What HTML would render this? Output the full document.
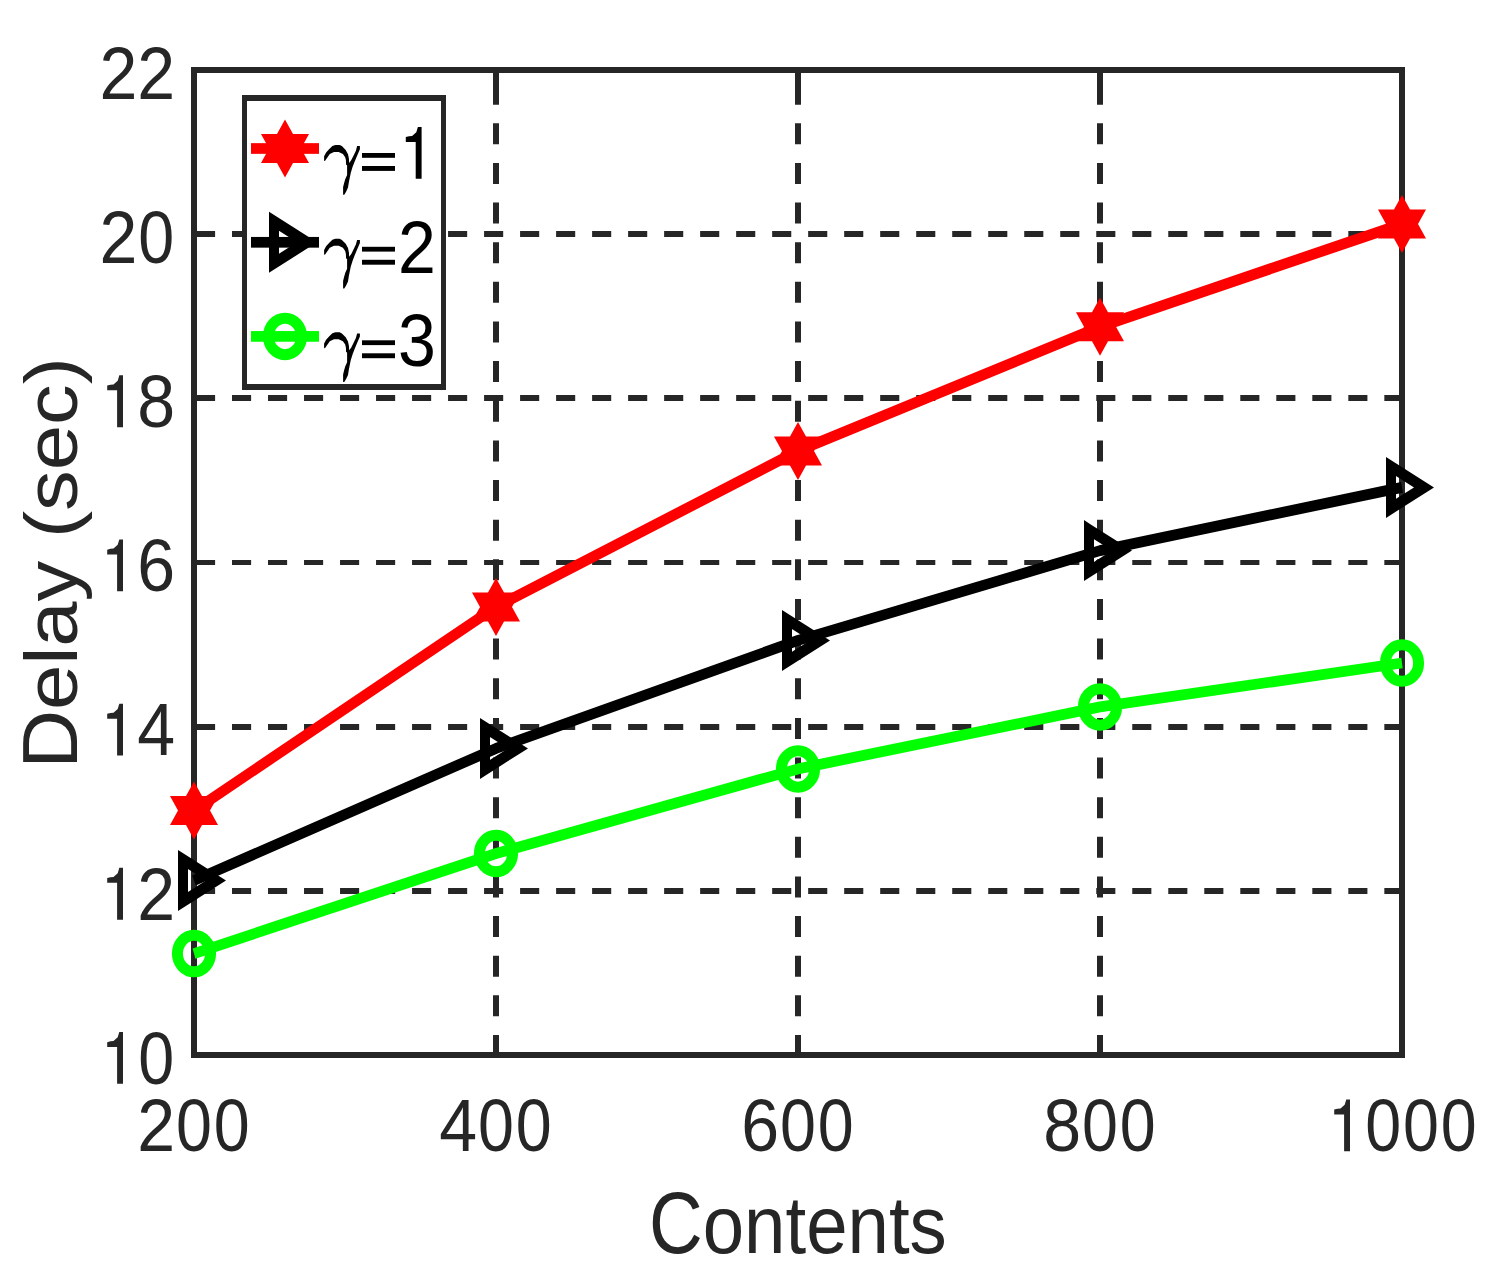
<!DOCTYPE html>
<html><head><meta charset="utf-8"><style>
html,body{margin:0;padding:0;background:#fff;width:1491px;height:1286px;overflow:hidden;}
svg{display:block;font-family:"Liberation Sans",sans-serif;}
</style></head><body>
<svg width="1491" height="1286" viewBox="0 0 1491 1286"><rect x="0" y="0" width="1491" height="1286" fill="#fff"/>
<line x1="496.0" y1="1056.0" x2="496.0" y2="70.0" stroke="#262626" stroke-width="6.0" stroke-dasharray="21 18.64"/>
<line x1="798.0" y1="1056.0" x2="798.0" y2="70.0" stroke="#262626" stroke-width="6.0" stroke-dasharray="21 18.64"/>
<line x1="1100.0" y1="1056.0" x2="1100.0" y2="70.0" stroke="#262626" stroke-width="6.0" stroke-dasharray="21 18.64"/>
<line x1="196" y1="891" x2="1402.0" y2="891" stroke="#262626" stroke-width="6" stroke-dasharray="19.1 16.91"/>
<line x1="196" y1="727" x2="1402.0" y2="727" stroke="#262626" stroke-width="6" stroke-dasharray="19.1 16.91"/>
<line x1="196" y1="562.5" x2="1402.0" y2="562.5" stroke="#262626" stroke-width="5" stroke-dasharray="19.1 16.91"/>
<line x1="196" y1="398" x2="1402.0" y2="398" stroke="#262626" stroke-width="6" stroke-dasharray="19.1 16.91"/>
<line x1="196" y1="234" x2="1402.0" y2="234" stroke="#262626" stroke-width="6" stroke-dasharray="19.1 16.91"/>
<rect x="194.0" y="70.0" width="1208.0" height="985.0" fill="none" stroke="#262626" stroke-width="6"/>
<line x1="194.0" y1="1055.0" x2="194.0" y2="1040.5" stroke="#262626" stroke-width="6.0"/>
<line x1="194.0" y1="70.0" x2="194.0" y2="84.5" stroke="#262626" stroke-width="6.0"/>
<line x1="496.0" y1="1055.0" x2="496.0" y2="1040.5" stroke="#262626" stroke-width="6.0"/>
<line x1="496.0" y1="70.0" x2="496.0" y2="84.5" stroke="#262626" stroke-width="6.0"/>
<line x1="798.0" y1="1055.0" x2="798.0" y2="1040.5" stroke="#262626" stroke-width="6.0"/>
<line x1="798.0" y1="70.0" x2="798.0" y2="84.5" stroke="#262626" stroke-width="6.0"/>
<line x1="1100.0" y1="1055.0" x2="1100.0" y2="1040.5" stroke="#262626" stroke-width="6.0"/>
<line x1="1100.0" y1="70.0" x2="1100.0" y2="84.5" stroke="#262626" stroke-width="6.0"/>
<line x1="1402.0" y1="1055.0" x2="1402.0" y2="1040.5" stroke="#262626" stroke-width="6.0"/>
<line x1="1402.0" y1="70.0" x2="1402.0" y2="84.5" stroke="#262626" stroke-width="6.0"/>
<line x1="194.0" y1="891" x2="206.1" y2="891" stroke="#262626" stroke-width="6"/>
<line x1="1402.0" y1="891" x2="1389.9" y2="891" stroke="#262626" stroke-width="6"/>
<line x1="194.0" y1="727" x2="206.1" y2="727" stroke="#262626" stroke-width="6"/>
<line x1="1402.0" y1="727" x2="1389.9" y2="727" stroke="#262626" stroke-width="6"/>
<line x1="194.0" y1="562.5" x2="206.1" y2="562.5" stroke="#262626" stroke-width="5"/>
<line x1="1402.0" y1="562.5" x2="1389.9" y2="562.5" stroke="#262626" stroke-width="5"/>
<line x1="194.0" y1="398" x2="206.1" y2="398" stroke="#262626" stroke-width="6"/>
<line x1="1402.0" y1="398" x2="1389.9" y2="398" stroke="#262626" stroke-width="6"/>
<line x1="194.0" y1="234" x2="206.1" y2="234" stroke="#262626" stroke-width="6"/>
<line x1="1402.0" y1="234" x2="1389.9" y2="234" stroke="#262626" stroke-width="6"/>
<g transform="scale(0.909,1)">
<polyline points="213.42,810.60 545.65,606.90 877.89,450.90 1210.12,326.80 1542.35,224.00" fill="none" stroke="#f00" stroke-width="10.8" stroke-linejoin="round" stroke-linecap="butt"/>
<polyline points="213.42,880.50 545.65,748.40 877.89,640.40 1210.12,550.60 1542.35,487.40" fill="none" stroke="#000" stroke-width="10.8" stroke-linejoin="round" stroke-linecap="butt"/>
<polyline points="213.42,953.60 545.65,853.50 877.89,768.90 1210.12,706.90 1542.35,663.00" fill="none" stroke="#0f0" stroke-width="10.8" stroke-linejoin="round" stroke-linecap="butt"/>
</g>
<path transform="translate(194.00,810.60) scale(0.956,1)" d="M0.00,-18.00 L5.20,-9.00 L15.59,-9.00 L10.39,0.00 L15.59,9.00 L5.20,9.00 L0.00,18.00 L-5.20,9.00 L-15.59,9.00 L-10.39,0.00 L-15.59,-9.00 L-5.20,-9.00 Z" fill="#f00" stroke="#f00" stroke-width="11.0" stroke-linejoin="miter" stroke-miterlimit="10"/>
<path transform="translate(496.00,606.90) scale(0.956,1)" d="M0.00,-18.00 L5.20,-9.00 L15.59,-9.00 L10.39,0.00 L15.59,9.00 L5.20,9.00 L0.00,18.00 L-5.20,9.00 L-15.59,9.00 L-10.39,0.00 L-15.59,-9.00 L-5.20,-9.00 Z" fill="#f00" stroke="#f00" stroke-width="11.0" stroke-linejoin="miter" stroke-miterlimit="10"/>
<path transform="translate(798.00,450.90) scale(0.956,1)" d="M0.00,-18.00 L5.20,-9.00 L15.59,-9.00 L10.39,0.00 L15.59,9.00 L5.20,9.00 L0.00,18.00 L-5.20,9.00 L-15.59,9.00 L-10.39,0.00 L-15.59,-9.00 L-5.20,-9.00 Z" fill="#f00" stroke="#f00" stroke-width="11.0" stroke-linejoin="miter" stroke-miterlimit="10"/>
<path transform="translate(1100.00,326.80) scale(0.956,1)" d="M0.00,-18.00 L5.20,-9.00 L15.59,-9.00 L10.39,0.00 L15.59,9.00 L5.20,9.00 L0.00,18.00 L-5.20,9.00 L-15.59,9.00 L-10.39,0.00 L-15.59,-9.00 L-5.20,-9.00 Z" fill="#f00" stroke="#f00" stroke-width="11.0" stroke-linejoin="miter" stroke-miterlimit="10"/>
<path transform="translate(1402.00,224.00) scale(0.956,1)" d="M0.00,-18.00 L5.20,-9.00 L15.59,-9.00 L10.39,0.00 L15.59,9.00 L5.20,9.00 L0.00,18.00 L-5.20,9.00 L-15.59,9.00 L-10.39,0.00 L-15.59,-9.00 L-5.20,-9.00 Z" fill="#f00" stroke="#f00" stroke-width="11.0" stroke-linejoin="miter" stroke-miterlimit="10"/>
<path transform="translate(194.00,880.50) scale(0.909,1)" d="M-12.10,-20.96 L24.20,0 L-12.10,20.96 Z" fill="none" stroke="#000" stroke-width="11.0" stroke-linejoin="miter" stroke-miterlimit="10"/>
<path transform="translate(496.00,748.40) scale(0.909,1)" d="M-12.10,-20.96 L24.20,0 L-12.10,20.96 Z" fill="none" stroke="#000" stroke-width="11.0" stroke-linejoin="miter" stroke-miterlimit="10"/>
<path transform="translate(798.00,640.40) scale(0.909,1)" d="M-12.10,-20.96 L24.20,0 L-12.10,20.96 Z" fill="none" stroke="#000" stroke-width="11.0" stroke-linejoin="miter" stroke-miterlimit="10"/>
<path transform="translate(1100.00,550.60) scale(0.909,1)" d="M-12.10,-20.96 L24.20,0 L-12.10,20.96 Z" fill="none" stroke="#000" stroke-width="11.0" stroke-linejoin="miter" stroke-miterlimit="10"/>
<path transform="translate(1402.00,487.40) scale(0.909,1)" d="M-12.10,-20.96 L24.20,0 L-12.10,20.96 Z" fill="none" stroke="#000" stroke-width="11.0" stroke-linejoin="miter" stroke-miterlimit="10"/>
<ellipse cx="194.00" cy="953.60" rx="16.59" ry="18.25" fill="none" stroke="#0f0" stroke-width="11.0"/>
<ellipse cx="496.00" cy="853.50" rx="16.59" ry="18.25" fill="none" stroke="#0f0" stroke-width="11.0"/>
<ellipse cx="798.00" cy="768.90" rx="16.59" ry="18.25" fill="none" stroke="#0f0" stroke-width="11.0"/>
<ellipse cx="1100.00" cy="706.90" rx="16.59" ry="18.25" fill="none" stroke="#0f0" stroke-width="11.0"/>
<ellipse cx="1402.00" cy="663.00" rx="16.59" ry="18.25" fill="none" stroke="#0f0" stroke-width="11.0"/>
<rect x="242" y="95" width="204" height="295" fill="#fff"/>
<rect x="242" y="95" width="204" height="6" fill="#262626"/>
<rect x="242" y="384" width="204" height="6" fill="#262626"/>
<rect x="242" y="95" width="5" height="295" fill="#262626"/>
<rect x="441" y="95" width="5" height="295" fill="#262626"/>
<rect x="251" y="143.15" width="68" height="10.7" fill="#f00"/>
<path transform="translate(285.00,148.50) scale(0.956,1)" d="M0.00,-18.00 L5.20,-9.00 L15.59,-9.00 L10.39,0.00 L15.59,9.00 L5.20,9.00 L0.00,18.00 L-5.20,9.00 L-15.59,9.00 L-10.39,0.00 L-15.59,-9.00 L-5.20,-9.00 Z" fill="#f00" stroke="#f00" stroke-width="11.0" stroke-linejoin="miter" stroke-miterlimit="10"/>
<path transform="translate(0,178.7)" d="M324.1,-17.7 L324.1,-22.4 L326.1,-26.3 L329.3,-29.8 L332.4,-32.7 L335.4,-33.8 L339.6,-33.8 L341.9,-32.6 L345.7,-28.7 L348.0,-24.5 L348.9,-20.3 L349.2,-15.7 L351.3,-18.6 L353.6,-23.3 L355.9,-28.0 L357.1,-32.6 L359.9,-32.6 L359.9,-29.4 L356.9,-22.4 L354.5,-16.8 L352.7,-12.1 L350.8,-6.0 L348.9,3.3 L348.0,8.9 L346.1,13.1 L344.3,16.1 L343.1,16.1 L343.1,8.4 L344.0,4.7 L345.2,0.5 L347.1,-3.7 L347.1,-13.5 L346.1,-14.0 L345.9,-18.6 L345.2,-21.4 L342.9,-24.7 L338.7,-26.8 L334.0,-26.8 L329.8,-24.7 L327.0,-20.7 L325.1,-17.9 Z" fill="#000"/>
<rect x="362" y="153.00" width="33" height="4.8" fill="#000"/>
<rect x="362" y="166.00" width="33" height="4.9" fill="#000"/>
<path transform="translate(421.60,178.70)" d="M-15.8,-36.8 L-15.8,-41.6 L-12.5,-42.5 L-9.5,-42.7 L-5.3,-46.5 L-4.4,-49.5 L-3.7,-51.8 L0,-51.8 L0,0 L-5.9,0 L-5.9,-36.8 Z" fill="#000"/>
<rect x="251" y="236.95" width="68" height="10.7" fill="#000"/>
<path transform="translate(285.00,242.30) scale(0.909,1)" d="M-12.10,-20.96 L24.20,0 L-12.10,20.96 Z" fill="none" stroke="#000" stroke-width="11.0" stroke-linejoin="miter" stroke-miterlimit="10"/>
<path transform="translate(0,272.5)" d="M324.1,-17.7 L324.1,-22.4 L326.1,-26.3 L329.3,-29.8 L332.4,-32.7 L335.4,-33.8 L339.6,-33.8 L341.9,-32.6 L345.7,-28.7 L348.0,-24.5 L348.9,-20.3 L349.2,-15.7 L351.3,-18.6 L353.6,-23.3 L355.9,-28.0 L357.1,-32.6 L359.9,-32.6 L359.9,-29.4 L356.9,-22.4 L354.5,-16.8 L352.7,-12.1 L350.8,-6.0 L348.9,3.3 L348.0,8.9 L346.1,13.1 L344.3,16.1 L343.1,16.1 L343.1,8.4 L344.0,4.7 L345.2,0.5 L347.1,-3.7 L347.1,-13.5 L346.1,-14.0 L345.9,-18.6 L345.2,-21.4 L342.9,-24.7 L338.7,-26.8 L334.0,-26.8 L329.8,-24.7 L327.0,-20.7 L325.1,-17.9 Z" fill="#000"/>
<rect x="362" y="246.80" width="33" height="4.8" fill="#000"/>
<rect x="362" y="259.80" width="33" height="4.9" fill="#000"/>
<text transform="translate(398.00,272.50) scale(0.912,1)" font-family="Liberation Sans" font-size="74.6" fill="#000">2</text>
<rect x="251" y="331.05" width="68" height="10.7" fill="#0f0"/>
<ellipse cx="285.00" cy="336.40" rx="16.59" ry="18.25" fill="none" stroke="#0f0" stroke-width="11.0"/>
<path transform="translate(0,366.0)" d="M324.1,-17.7 L324.1,-22.4 L326.1,-26.3 L329.3,-29.8 L332.4,-32.7 L335.4,-33.8 L339.6,-33.8 L341.9,-32.6 L345.7,-28.7 L348.0,-24.5 L348.9,-20.3 L349.2,-15.7 L351.3,-18.6 L353.6,-23.3 L355.9,-28.0 L357.1,-32.6 L359.9,-32.6 L359.9,-29.4 L356.9,-22.4 L354.5,-16.8 L352.7,-12.1 L350.8,-6.0 L348.9,3.3 L348.0,8.9 L346.1,13.1 L344.3,16.1 L343.1,16.1 L343.1,8.4 L344.0,4.7 L345.2,0.5 L347.1,-3.7 L347.1,-13.5 L346.1,-14.0 L345.9,-18.6 L345.2,-21.4 L342.9,-24.7 L338.7,-26.8 L334.0,-26.8 L329.8,-24.7 L327.0,-20.7 L325.1,-17.9 Z" fill="#000"/>
<rect x="362" y="340.30" width="33" height="4.8" fill="#000"/>
<rect x="362" y="353.30" width="33" height="4.9" fill="#000"/>
<text transform="translate(398.00,366.00) scale(0.912,1)" font-family="Liberation Sans" font-size="74.6" fill="#000">3</text>
<text transform="translate(137.30,1151.20) scale(0.912,1)" font-family="Liberation Sans" font-size="74.6" fill="#262626">2</text><text transform="translate(194.02,1151.20) scale(0.8664,1) translate(-20.74,0)" font-family="Liberation Sans" font-size="74.6" fill="#262626">0</text><text transform="translate(231.82,1151.20) scale(0.8664,1) translate(-20.74,0)" font-family="Liberation Sans" font-size="74.6" fill="#262626">0</text>
<text transform="translate(439.30,1151.20) scale(0.912,1)" font-family="Liberation Sans" font-size="74.6" fill="#262626">4</text><text transform="translate(496.02,1151.20) scale(0.8664,1) translate(-20.74,0)" font-family="Liberation Sans" font-size="74.6" fill="#262626">0</text><text transform="translate(533.82,1151.20) scale(0.8664,1) translate(-20.74,0)" font-family="Liberation Sans" font-size="74.6" fill="#262626">0</text>
<text transform="translate(741.30,1151.20) scale(0.912,1)" font-family="Liberation Sans" font-size="74.6" fill="#262626">6</text><text transform="translate(798.02,1151.20) scale(0.8664,1) translate(-20.74,0)" font-family="Liberation Sans" font-size="74.6" fill="#262626">0</text><text transform="translate(835.82,1151.20) scale(0.8664,1) translate(-20.74,0)" font-family="Liberation Sans" font-size="74.6" fill="#262626">0</text>
<text transform="translate(1043.30,1151.20) scale(0.912,1)" font-family="Liberation Sans" font-size="74.6" fill="#262626">8</text><text transform="translate(1100.02,1151.20) scale(0.8664,1) translate(-20.74,0)" font-family="Liberation Sans" font-size="74.6" fill="#262626">0</text><text transform="translate(1137.82,1151.20) scale(0.8664,1) translate(-20.74,0)" font-family="Liberation Sans" font-size="74.6" fill="#262626">0</text>
<path transform="translate(1350.00,1151.20)" d="M-15.8,-36.8 L-15.8,-41.6 L-12.5,-42.5 L-9.5,-42.7 L-5.3,-46.5 L-4.4,-49.5 L-3.7,-51.8 L0,-51.8 L0,0 L-5.9,0 L-5.9,-36.8 Z" fill="#262626"/><text transform="translate(1383.12,1151.20) scale(0.8664,1) translate(-20.74,0)" font-family="Liberation Sans" font-size="74.6" fill="#262626">0</text><text transform="translate(1420.92,1151.20) scale(0.8664,1) translate(-20.74,0)" font-family="Liberation Sans" font-size="74.6" fill="#262626">0</text><text transform="translate(1458.72,1151.20) scale(0.8664,1) translate(-20.74,0)" font-family="Liberation Sans" font-size="74.6" fill="#262626">0</text>
<path transform="translate(123.00,1083.80)" d="M-15.8,-36.8 L-15.8,-41.6 L-12.5,-42.5 L-9.5,-42.7 L-5.3,-46.5 L-4.4,-49.5 L-3.7,-51.8 L0,-51.8 L0,0 L-5.9,0 L-5.9,-36.8 Z" fill="#262626"/><text transform="translate(156.12,1083.80) scale(0.8664,1) translate(-20.74,0)" font-family="Liberation Sans" font-size="74.6" fill="#262626">0</text>
<path transform="translate(123.00,919.63)" d="M-15.8,-36.8 L-15.8,-41.6 L-12.5,-42.5 L-9.5,-42.7 L-5.3,-46.5 L-4.4,-49.5 L-3.7,-51.8 L0,-51.8 L0,0 L-5.9,0 L-5.9,-36.8 Z" fill="#262626"/><text transform="translate(137.20,919.63) scale(0.912,1)" font-family="Liberation Sans" font-size="74.6" fill="#262626">2</text>
<path transform="translate(123.00,755.47)" d="M-15.8,-36.8 L-15.8,-41.6 L-12.5,-42.5 L-9.5,-42.7 L-5.3,-46.5 L-4.4,-49.5 L-3.7,-51.8 L0,-51.8 L0,0 L-5.9,0 L-5.9,-36.8 Z" fill="#262626"/><text transform="translate(137.20,755.47) scale(0.912,1)" font-family="Liberation Sans" font-size="74.6" fill="#262626">4</text>
<path transform="translate(123.00,591.30)" d="M-15.8,-36.8 L-15.8,-41.6 L-12.5,-42.5 L-9.5,-42.7 L-5.3,-46.5 L-4.4,-49.5 L-3.7,-51.8 L0,-51.8 L0,0 L-5.9,0 L-5.9,-36.8 Z" fill="#262626"/><text transform="translate(137.20,591.30) scale(0.912,1)" font-family="Liberation Sans" font-size="74.6" fill="#262626">6</text>
<path transform="translate(123.00,427.13)" d="M-15.8,-36.8 L-15.8,-41.6 L-12.5,-42.5 L-9.5,-42.7 L-5.3,-46.5 L-4.4,-49.5 L-3.7,-51.8 L0,-51.8 L0,0 L-5.9,0 L-5.9,-36.8 Z" fill="#262626"/><text transform="translate(137.20,427.13) scale(0.912,1)" font-family="Liberation Sans" font-size="74.6" fill="#262626">8</text>
<text transform="translate(99.40,262.97) scale(0.912,1)" font-family="Liberation Sans" font-size="74.6" fill="#262626">2</text><text transform="translate(156.12,262.97) scale(0.8664,1) translate(-20.74,0)" font-family="Liberation Sans" font-size="74.6" fill="#262626">0</text>
<text transform="translate(99.40,98.80) scale(0.912,1)" font-family="Liberation Sans" font-size="74.6" fill="#262626">2</text><text transform="translate(137.20,98.80) scale(0.912,1)" font-family="Liberation Sans" font-size="74.6" fill="#262626">2</text>
<text transform="translate(649,1253) scale(0.913,1.071)" font-family="Liberation Sans" font-size="81.5" fill="#262626">C</text>
<text transform="translate(702.74,1253) scale(0.913,1)" font-family="Liberation Sans" font-size="81.5" fill="#262626">ontents</text>
<text transform="translate(77,768.8) scale(0.9572,1) rotate(-90)" font-family="Liberation Sans" font-size="81.4" fill="#262626">D</text>
<text transform="translate(77,710.02) scale(0.903,1) rotate(-90)" font-family="Liberation Sans" font-size="81.4" fill="#262626">elay (sec)</text></svg>
</body></html>
